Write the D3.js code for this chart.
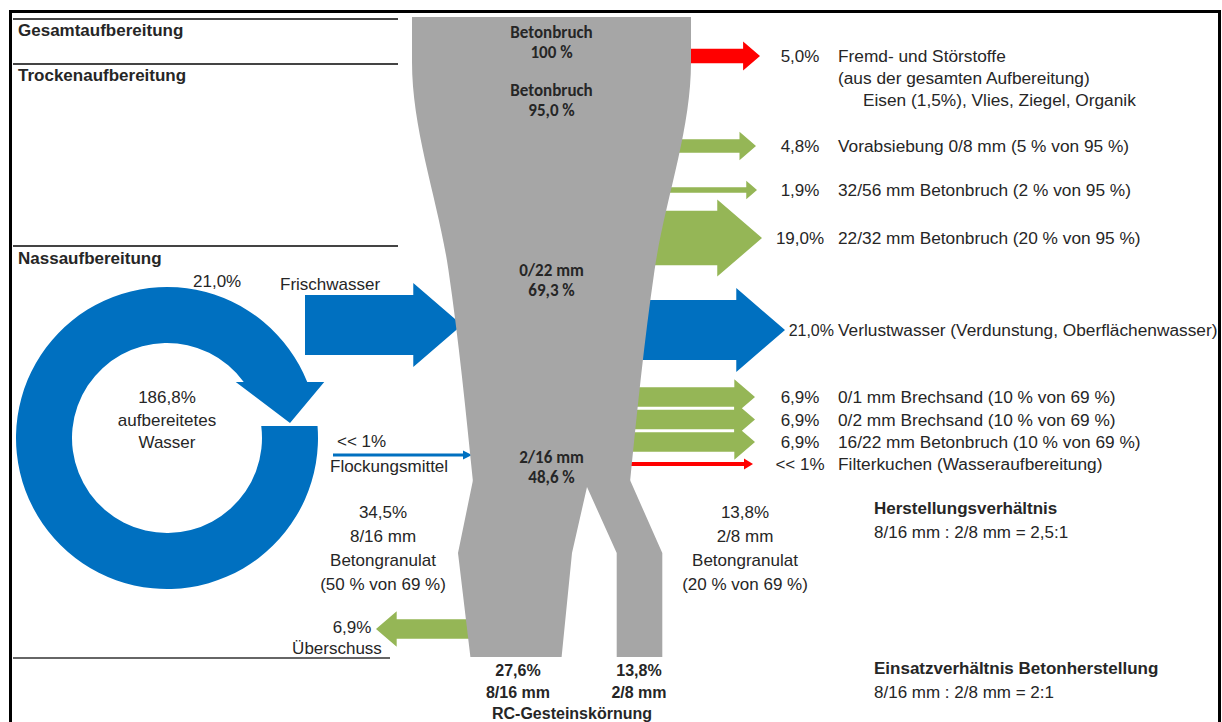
<!DOCTYPE html>
<html>
<head>
<meta charset="utf-8">
<script src="https://cdn.jsdelivr.net/npm/d3@7"></script>
<style>
  body { margin: 0; background: #fff; }
  text { font-family: "Liberation Sans", Arial, sans-serif; fill: #262626; }
</style>
</head>
<body>
<div id="wrapper"></div>
<script>
// ---- data ----
const sectionNames = ["Gesamtaufbereitung", "Trockenaufbereitung", "Nassaufbereitung"];

const stageNames = ["Betonbruch", "Betonbruch", "0/22 mm", "2/16 mm"];
const stageValues = [100, 95.0, 69.3, 48.6];
const stageText = ["100 %", "95,0 %", "69,3 %", "48,6 %"];

const outNames = [
  "Fremd- und Störstoffe",
  "Vorabsiebung 0/8 mm (5 % von 95 %)",
  "32/56 mm Betonbruch (2 % von 95 %)",
  "22/32 mm Betonbruch (20 % von 95 %)",
  "Verlustwasser (Verdunstung, Oberflächenwasser)",
  "0/1 mm Brechsand (10 % von 69 %)",
  "0/2 mm Brechsand (10 % von 69 %)",
  "16/22 mm Betonbruch (10 % von 69 %)",
  "Filterkuchen (Wasseraufbereitung)"
];
const outValues = [5.0, 4.8, 1.9, 19.0, 21.0, 6.9, 6.9, 6.9, 0];
const outText = ["5,0%", "4,8%", "1,9%", "19,0%", "21,0%", "6,9%", "6,9%", "6,9%", "<< 1%"];
const outKind = ["stoer", "produkt", "produkt", "produkt", "wasser", "produkt", "produkt", "produkt", "stoer"];
const stoerNote = ["(aus der gesamten Aufbereitung)", "Eisen (1,5%), Vlies, Ziegel, Organik"];

const freshWater = 21.0;
const freshText = "21,0%";
const waterLoopText = ["186,8%", "aufbereitetes", "Wasser"];
const flockText = ["<< 1%", "Flockungsmittel"];

const granulatNames = ["8/16 mm", "2/8 mm"];
const granulatValues = [34.5, 13.8];
const granulatText = [["34,5%", "8/16 mm", "Betongranulat", "(50 % von 69 %)"],
                      ["13,8%", "2/8 mm", "Betongranulat", "(20 % von 69 %)"]];
const surplusValue = 6.9;
const surplusText = ["6,9%", "Überschuss"];
const rcValues = [27.6, 13.8];
const rcText = [["27,6%", "8/16 mm"], ["13,8%", "2/8 mm"]];
const rcTitle = "RC-Gesteinskörnung";

const ratioNotes = [
  ["Herstellungsverhältnis", "8/16 mm : 2/8 mm = 2,5:1"],
  ["Einsatzverhältnis Betonherstellung", "8/16 mm : 2/8 mm = 2:1"]
];

// ---- layout ----
const dimensions = { width: 1222, height: 722 };
const colors = { grau: "#a6a6a6", wasser: "#0070c0", produkt: "#95b656", stoer: "#ff0000" };
const sectionY = [19, 64, 246];
const sectionTextY = [36, 81, 264];
const funnelCx = 551.5;
const funnelNodes = [{ s: 0, y: 17 }, { s: 0, y: 62 }, { s: 2, y: 270 }, { s: 3, y: 482 }];
const stageTextY = [38, 96, 276, 463];
const outY = [56, 146, 190, 238, 330, 397, 419.5, 442, 464];
const outTip = [760, 756, 757, 762, 785, 755, 755, 755, 753];
const ring = { cx: 167, cy: 438, R: 151, r: 95, lowCut: 426, highCut: 382 };

const wrapper = d3.select("#wrapper").append("svg")
  .attr("width", dimensions.width)
  .attr("height", dimensions.height);

// scales
const flowWidth = d3.scaleLinear().domain([0, 21]).range([0, 60]);
const funnelWidth = d3.scaleLinear().domain([48.6, 100]).range([157, 279]);
const branchWidth = d3.scaleLinear().domain([0, 34.5]).range([0, 114]);

function arrow(x0, tip, cy, value, minShaft) {
  const shaft = Math.max(flowWidth(value), minShaft || 0);
  const head = 1.2 * shaft + 12;
  const len = 0.58 * head;
  const dir = tip > x0 ? 1 : -1;
  const base = tip - dir * len;
  const p = d3.path();
  p.moveTo(x0, cy - shaft / 2);
  p.lineTo(base, cy - shaft / 2);
  p.lineTo(base, cy - head / 2);
  p.lineTo(tip, cy);
  p.lineTo(base, cy + head / 2);
  p.lineTo(base, cy + shaft / 2);
  p.lineTo(x0, cy + shaft / 2);
  p.closePath();
  return p.toString();
}

function lineArrow(x0, tip, cy, thick, color) {
  wrapper.append("line")
    .attr("x1", x0).attr("x2", tip - 8).attr("y1", cy).attr("y2", cy)
    .attr("stroke", color).attr("stroke-width", thick);
  wrapper.append("path")
    .attr("d", `M${tip - 9},${cy - thick - 1.5}L${tip},${cy}L${tip - 9},${cy + thick + 1.5}Z`)
    .attr("fill", color);
}

// frame
wrapper.append("rect")
  .attr("x", 10.5).attr("y", 11.5).attr("width", 1209).attr("height", 800)
  .attr("fill", "none").attr("stroke", "#000").attr("stroke-width", 3);

// section lines + headings
wrapper.selectAll(".sec").data(sectionY).enter().append("line")
  .attr("x1", 13).attr("x2", 398).attr("y1", d => d).attr("y2", d => d)
  .attr("stroke", "#444").attr("stroke-width", 2);
wrapper.append("line")
  .attr("x1", 13).attr("x2", 390).attr("y1", 658).attr("y2", 658)
  .attr("stroke", "#666").attr("stroke-width", 2);
wrapper.selectAll(".sectxt").data(sectionNames).enter().append("text")
  .attr("x", 18).attr("y", (d, i) => sectionTextY[i])
  .style("font-size", "17px").style("font-weight", "bold")
  .text(d => d);

// outflows on the right (drawn under the funnel)
outValues.forEach((v, i) => {
  const c = colors[outKind[i]];
  if (v > 0) {
    wrapper.append("path").attr("d", arrow(funnelCx, outTip[i], outY[i], v)).attr("fill", c);
  } else {
    lineArrow(630, outTip[i], outY[i], 4, c);
  }
});

// fresh water in
wrapper.append("path").attr("d", arrow(305, 462, 325, freshWater)).attr("fill", colors.wasser);
// flocculant
lineArrow(333, 472, 455, 3, colors.wasser);
// surplus out to the left
wrapper.append("path").attr("d", arrow(520, 376, 629, surplusValue)).attr("fill", colors.produkt);

// funnel, upper part
const funnelArea = d3.area()
  .y(d => d.y)
  .x0(d => funnelCx - funnelWidth(stageValues[d.s]) / 2)
  .x1(d => funnelCx + funnelWidth(stageValues[d.s]) / 2)
  .curve(d3.curveMonotoneY);
wrapper.append("path").attr("d", funnelArea(funnelNodes)).attr("fill", colors.grau);

// funnel, split into the two granulate branches
const yS = 480, yG = 553, yB = 657, apex = [587, 487];
const leftC = 515, leftBotC = 516, rightC = 639.5;
const half = v => branchWidth(v) / 2;
const fl = funnelCx - funnelWidth(stageValues[3]) / 2;
const fr = funnelCx + funnelWidth(stageValues[3]) / 2;
const lowerPts = [
  [fl, yS],
  [leftC - half(granulatValues[0]), yG],
  [leftBotC - half(rcValues[0]), yB],
  [leftBotC + half(rcValues[0]), yB],
  [leftC + half(granulatValues[0]), yG],
  apex,
  [rightC - half(granulatValues[1]), yG],
  [rightC - half(rcValues[1]), yB],
  [rightC + half(rcValues[1]), yB],
  [rightC + half(granulatValues[1]), yG],
  [fr, yS]
];
wrapper.append("path")
  .attr("d", d3.line()(lowerPts) + "Z")
  .attr("fill", colors.grau);

// funnel labels
stageNames.forEach((n, i) => {
  const g = wrapper.append("text")
    .attr("x", funnelCx).attr("text-anchor", "middle")
    .style("font-family", "Carlito, Lato, sans-serif")
    .style("font-weight", "bold").style("font-size", "17px");
  g.append("tspan").attr("x", funnelCx).attr("y", stageTextY[i]).text(n);
  g.append("tspan").attr("x", funnelCx).attr("y", stageTextY[i] + 20).text(stageText[i]);
});

// right labels
outText.forEach((t, i) => {
  const big = i === 4;
  wrapper.append("text").attr("x", big ? 834 : 800).attr("y", outY[i] + 6)
    .attr("text-anchor", big ? "end" : "middle")
    .style("font-size", big ? "16px" : "17px").text(t);
  wrapper.append("text").attr("x", 838).attr("y", outY[i] + 6)
    .style("font-size", "17.3px").text(outNames[i]);
});
wrapper.append("text").attr("x", 838).attr("y", 84).style("font-size", "17.3px").text(stoerNote[0]);
wrapper.append("text").attr("x", 863).attr("y", 106).style("font-size", "17.3px").text(stoerNote[1]);

// water loop (circular arrow)
const { cx, cy, R, r } = ring;
const ang = (rad, yc) => Math.atan2(yc - cy, Math.sqrt(rad * rad - (yc - cy) * (yc - cy)));
const oHigh = [cx + Math.sqrt(R * R - (ring.highCut - cy) ** 2), ring.highCut];
const iHigh = [cx + Math.sqrt(r * r - (ring.highCut - cy) ** 2), ring.highCut];
const loop = d3.path();
loop.arc(cx, cy, R, ang(R, ring.lowCut), ang(R, ring.highCut) + 2 * Math.PI, false);
loop.lineTo(oHigh[0] + 17, ring.highCut);
loop.lineTo(290, 423);
loop.lineTo(iHigh[0] - 8, ring.highCut);
loop.lineTo(iHigh[0], iHigh[1]);
loop.arc(cx, cy, r, ang(r, ring.highCut) + 2 * Math.PI, ang(r, ring.lowCut), true);
loop.closePath();
wrapper.append("path").attr("d", loop.toString()).attr("fill", colors.wasser);

waterLoopText.forEach((t, i) => {
  wrapper.append("text").attr("x", cx).attr("y", 403 + i * 22.5)
    .attr("text-anchor", "middle").style("font-size", "17px").text(t);
});
wrapper.append("text").attr("x", 193).attr("y", 287).style("font-size", "17px").text(freshText);
wrapper.append("text").attr("x", 280).attr("y", 290).style("font-size", "17px").text("Frischwasser");
wrapper.append("text").attr("x", 337).attr("y", 447).style("font-size", "17px").text(flockText[0]);
wrapper.append("text").attr("x", 330).attr("y", 472).style("font-size", "17px").text(flockText[1]);

// granulate labels
const granX = [383, 745];
granulatText.forEach((lines, k) => {
  lines.forEach((t, i) => {
    wrapper.append("text").attr("x", granX[k]).attr("y", 518 + i * 24)
      .attr("text-anchor", "middle").style("font-size", "17px").text(t);
  });
});
wrapper.append("text").attr("x", 352).attr("y", 633).attr("text-anchor", "middle")
  .style("font-size", "17px").text(surplusText[0]);
wrapper.append("text").attr("x", 337).attr("y", 654).attr("text-anchor", "middle")
  .style("font-size", "17px").text(surplusText[1]);

// RC aggregate labels
const rcX = [518, 639];
rcText.forEach((lines, k) => {
  lines.forEach((t, i) => {
    wrapper.append("text").attr("x", rcX[k]).attr("y", 676 + i * 22)
      .attr("text-anchor", "middle").style("font-size", "16px").style("font-weight", "bold").text(t);
  });
});
wrapper.append("text").attr("x", 572).attr("y", 719).attr("text-anchor", "middle")
  .style("font-size", "16px").style("font-weight", "bold").text(rcTitle);

// ratio notes
const noteY = [514, 674];
ratioNotes.forEach((n, k) => {
  wrapper.append("text").attr("x", 874).attr("y", noteY[k])
    .style("font-size", "17px").style("font-weight", "bold").text(n[0]);
  wrapper.append("text").attr("x", 874).attr("y", noteY[k] + 24)
    .style("font-size", "17px").text(n[1]);
});
</script>
</body>
</html>
